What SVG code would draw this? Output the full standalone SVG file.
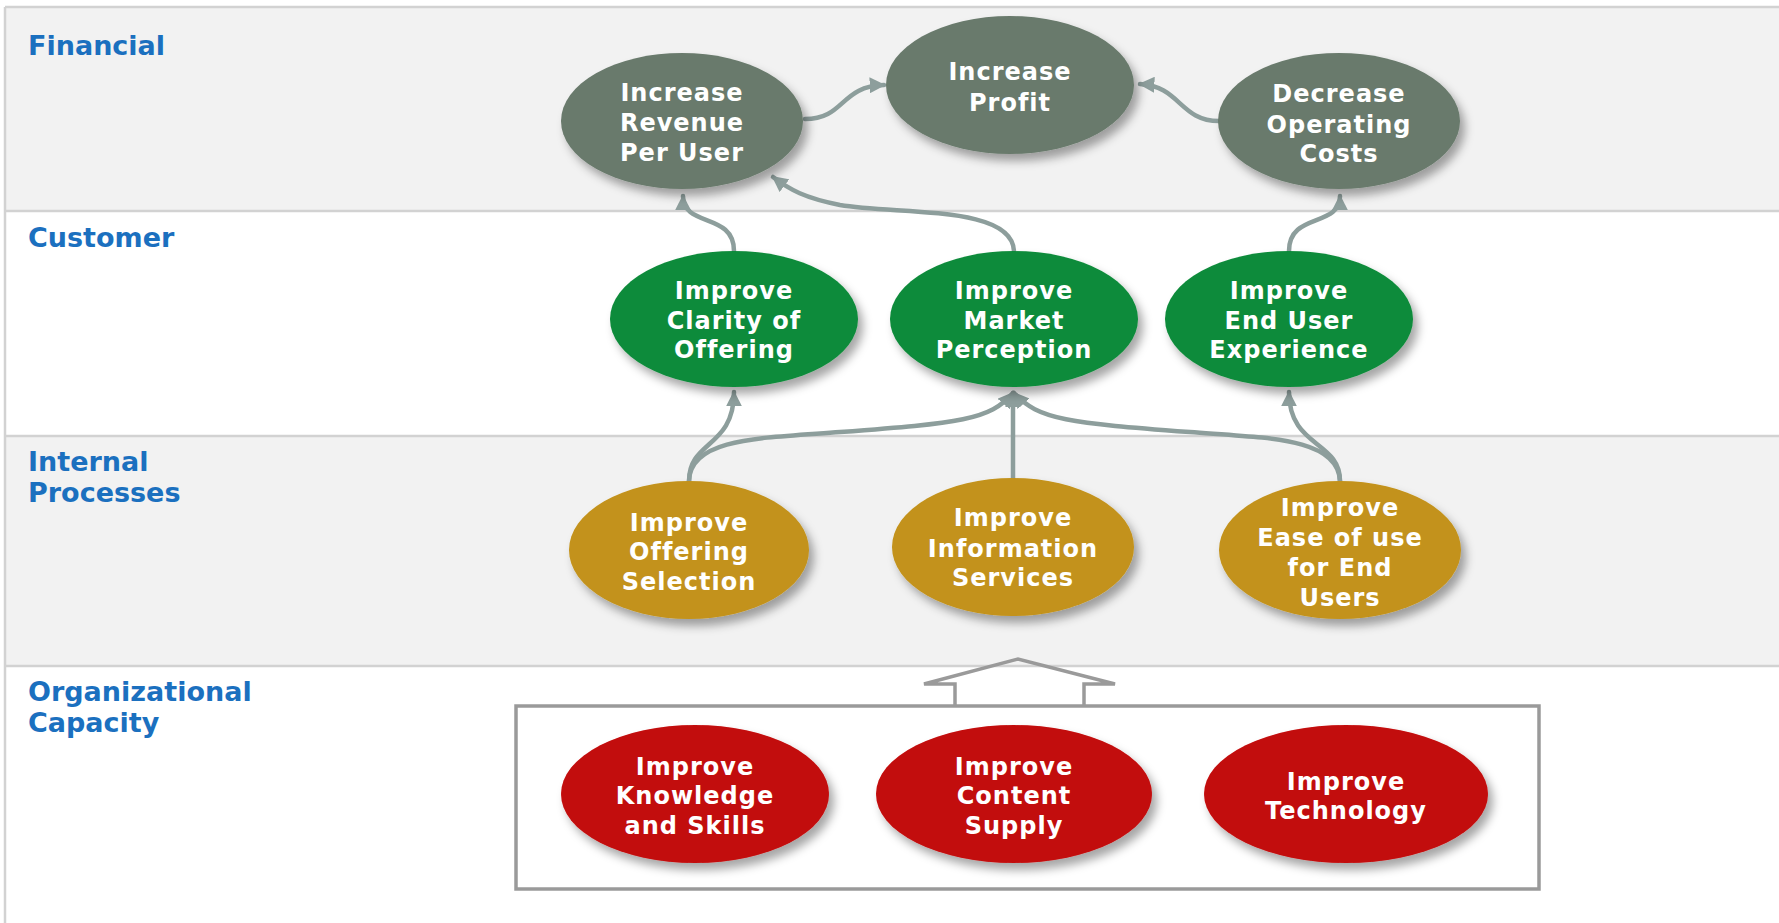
<svg xmlns="http://www.w3.org/2000/svg" width="1779" height="923" viewBox="0 0 1779 923">
<defs>
<style>
.band-gray{fill:#f2f2f2}
.band-white{fill:#ffffff}
.sep{stroke:#d2d2d2;stroke-width:2.5;fill:none}
.lbl{font-family:"DejaVu Sans",Verdana,sans-serif;font-weight:bold;font-size:27px;fill:#1b70bf}
.nt{font-family:"DejaVu Sans",Verdana,sans-serif;font-weight:bold;font-size:24px;fill:#ffffff;text-anchor:middle;letter-spacing:1px}
.fin{fill:#697a6c}
.cus{fill:#0f8b3b}
.int{fill:#c3921a}
.org{fill:#c20808}
.con{fill:none;stroke:#8d9e9c;stroke-width:4.5;stroke-linecap:round}
</style>
<filter id="sh" x="-20%" y="-20%" width="150%" height="150%">
<feDropShadow dx="5" dy="7" stdDeviation="5" flood-color="#000" flood-opacity="0.35"/>
</filter>
<marker id="ah" viewBox="0 0 10 10" refX="9" refY="5" markerWidth="16" markerHeight="16" markerUnits="userSpaceOnUse" orient="auto">
<path d="M0,0 L10,5 L0,10 Z" fill="#8d9e9c"/>
</marker>
</defs>

<g id="bands">
<rect class="band-white" x="0" y="0" width="1779" height="923"/>
<rect class="band-gray" x="5" y="7" width="1774" height="204"/>
<rect class="band-white" x="5" y="211" width="1774" height="225"/>
<rect class="band-gray" x="5" y="436" width="1774" height="230"/>
<rect class="band-white" x="5" y="666" width="1774" height="257"/>
<line class="sep" x1="5" y1="7" x2="1779" y2="7"/>
<line class="sep" x1="5" y1="211" x2="1779" y2="211"/>
<line class="sep" x1="5" y1="436" x2="1779" y2="436"/>
<line class="sep" x1="5" y1="666" x2="1779" y2="666"/>
<line class="sep" x1="5" y1="7" x2="5" y2="923"/>
<text class="lbl" x="28" y="55">Financial</text>
<text class="lbl" x="28" y="247">Customer</text>
<text class="lbl" x="28" y="471">Internal</text>
<text class="lbl" x="28" y="502">Processes</text>
<text class="lbl" x="28" y="701">Organizational</text>
<text class="lbl" x="28" y="732">Capacity</text>
</g>

<g id="capacity-box">
<rect x="516" y="706" width="1023" height="183" fill="none" stroke="#9a9a9a" stroke-width="3.5"/>
<path d="M955,705 L955,684 L924,684 L1018,659 L1115,684 L1084,684 L1084,705" fill="none" stroke="#9a9a9a" stroke-width="3.5" stroke-linejoin="miter"/>
</g>

<g id="connectors">
<path class="con" marker-end="url(#ah)" d="M805,119 C845,119 840,86 884,85"/>
<path class="con" marker-end="url(#ah)" d="M1219,121 C1180,121 1180,86 1140,84"/>
<path class="con" marker-end="url(#ah)" d="M734,251 C734,212 683,228 683,196"/>
<path class="con" marker-end="url(#ah)" d="M1014,251 C1012,205 900,215 840,205 C805,198 790,190 773,177"/>
<path class="con" marker-end="url(#ah)" d="M1289,251 C1289,212 1340,228 1340,196"/>
<path class="con" marker-end="url(#ah)" d="M689,481 C689,440 734,448 734,392"/>
<path class="con" marker-end="url(#ah)" d="M689,481 C690,438 760,438 840,432 C960,423 990,420 1013,393"/>
<path class="con" marker-end="url(#ah)" d="M1013,479 L1013,393"/>
<path class="con" marker-end="url(#ah)" d="M1340,481 C1338,438 1270,438 1190,432 C1070,423 1038,420 1014,393"/>
<path class="con" marker-end="url(#ah)" d="M1340,481 C1340,440 1289,448 1289,392"/>
</g>

<g id="n-revenue">
<ellipse class="fin" cx="682" cy="121" rx="121" ry="68" filter="url(#sh)"/>
<text class="nt" x="682" y="101">Increase</text>
<text class="nt" x="682" y="131">Revenue</text>
<text class="nt" x="682" y="161">Per User</text>
</g>
<g id="n-profit">
<ellipse class="fin" cx="1010" cy="85" rx="124" ry="69" filter="url(#sh)"/>
<text class="nt" x="1010" y="80">Increase</text>
<text class="nt" x="1010" y="111">Profit</text>
</g>
<g id="n-costs">
<ellipse class="fin" cx="1339" cy="121" rx="121" ry="68" filter="url(#sh)"/>
<text class="nt" x="1339" y="102">Decrease</text>
<text class="nt" x="1339" y="133">Operating</text>
<text class="nt" x="1339" y="162">Costs</text>
</g>

<g id="n-clarity">
<ellipse class="cus" cx="734" cy="319" rx="124" ry="68" filter="url(#sh)"/>
<text class="nt" x="734" y="299">Improve</text>
<text class="nt" x="734" y="329">Clarity of</text>
<text class="nt" x="734" y="358">Offering</text>
</g>
<g id="n-market">
<ellipse class="cus" cx="1014" cy="319" rx="124" ry="68" filter="url(#sh)"/>
<text class="nt" x="1014" y="299">Improve</text>
<text class="nt" x="1014" y="329">Market</text>
<text class="nt" x="1014" y="358">Perception</text>
</g>
<g id="n-enduser">
<ellipse class="cus" cx="1289" cy="319" rx="124" ry="68" filter="url(#sh)"/>
<text class="nt" x="1289" y="299">Improve</text>
<text class="nt" x="1289" y="329">End User</text>
<text class="nt" x="1289" y="358">Experience</text>
</g>

<g id="n-selection">
<ellipse class="int" cx="689" cy="550" rx="120" ry="69" filter="url(#sh)"/>
<text class="nt" x="689" y="531">Improve</text>
<text class="nt" x="689" y="560">Offering</text>
<text class="nt" x="689" y="590">Selection</text>
</g>
<g id="n-info">
<ellipse class="int" cx="1013" cy="547" rx="121" ry="69" filter="url(#sh)"/>
<text class="nt" x="1013" y="526">Improve</text>
<text class="nt" x="1013" y="557">Information</text>
<text class="nt" x="1013" y="586">Services</text>
</g>
<g id="n-ease">
<ellipse class="int" cx="1340" cy="550" rx="121" ry="69" filter="url(#sh)"/>
<text class="nt" x="1340" y="516">Improve</text>
<text class="nt" x="1340" y="546">Ease of use</text>
<text class="nt" x="1340" y="576">for End</text>
<text class="nt" x="1340" y="606">Users</text>
</g>

<g id="n-knowledge">
<ellipse class="org" cx="695" cy="794" rx="134" ry="69" filter="url(#sh)"/>
<text class="nt" x="695" y="775">Improve</text>
<text class="nt" x="695" y="804">Knowledge</text>
<text class="nt" x="695" y="834">and Skills</text>
</g>
<g id="n-content">
<ellipse class="org" cx="1014" cy="794" rx="138" ry="69" filter="url(#sh)"/>
<text class="nt" x="1014" y="775">Improve</text>
<text class="nt" x="1014" y="804">Content</text>
<text class="nt" x="1014" y="834">Supply</text>
</g>
<g id="n-technology">
<ellipse class="org" cx="1346" cy="794" rx="142" ry="69" filter="url(#sh)"/>
<text class="nt" x="1346" y="790">Improve</text>
<text class="nt" x="1346" y="819">Technology</text>
</g>
</svg>
